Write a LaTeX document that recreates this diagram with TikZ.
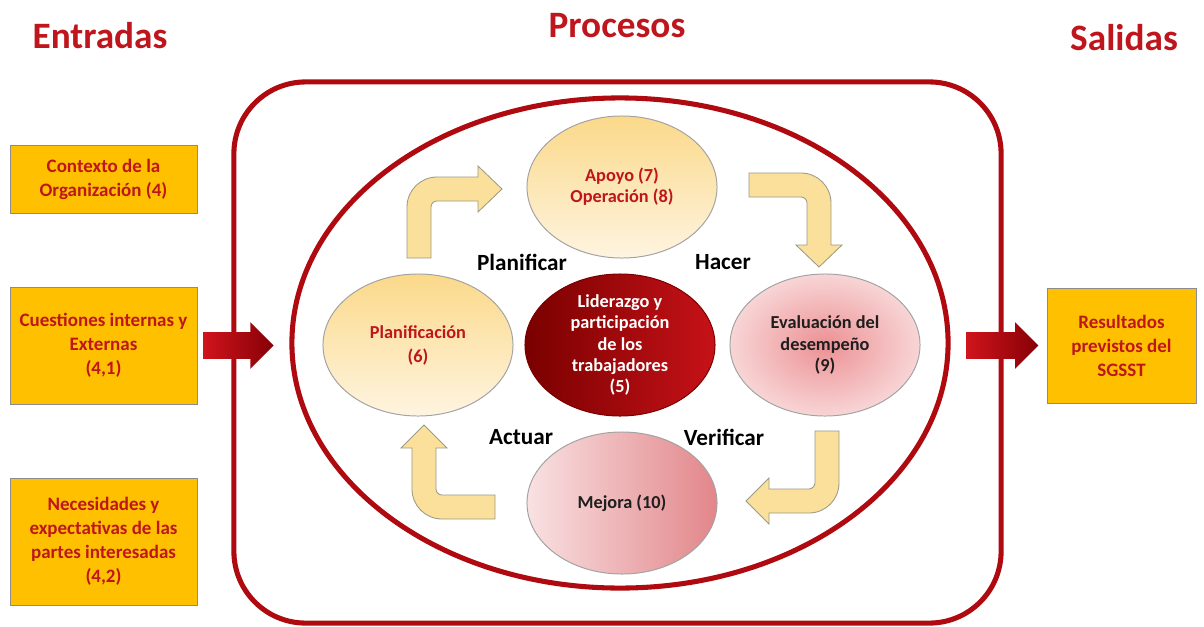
\documentclass[tikz,border=0pt]{standalone}
\usepackage{fontspec}
\setmainfont{Carlito}
\usepackage{xcolor}
\usepackage{tikz}
\usetikzlibrary{positioning,shapes.geometric,shapes.arrows}
\definecolor{textred}{HTML}{BE161C}
\definecolor{framered}{HTML}{AE0A10}
\definecolor{boxgold}{HTML}{FFC000}
\definecolor{boxgray}{HTML}{8C8C8C}
\definecolor{bubblegray}{HTML}{A3A3A3}
\definecolor{cremetop}{HTML}{FBD98A}
\definecolor{cremebottom}{HTML}{FEF4E0}
\definecolor{liderleft}{HTML}{7A0000}
\definecolor{liderright}{HTML}{C61218}
\definecolor{evalinner}{HTML}{EC9194}
\definecolor{evalouter}{HTML}{F8D5D6}
\definecolor{mejoraleft}{HTML}{F9E1E2}
\definecolor{mejoraright}{HTML}{E2868A}
\definecolor{turnfill}{HTML}{FBE09B}
\definecolor{turnline}{HTML}{9A9A86}
\definecolor{bigleft}{HTML}{D0141C}
\definecolor{bigright}{HTML}{860006}
\definecolor{darktext}{HTML}{1E1E1E}
\tikzset{
  titulo/.style={font=\fontsize{26.5}{30}\selectfont\bfseries,text=textred},
  fase/.style={font=\fontsize{16.5}{20}\selectfont\bfseries,text=black},
  caja/.style={draw=boxgray,fill=boxgold,text=textred,align=center,inner sep=2pt,
    minimum width=4.675cm,font=\fontsize{13.5}{17}\selectfont\bfseries},
  burbuja/.style={ellipse,draw=bubblegray,line width=0.7pt,minimum width=4.75cm,minimum height=3.55cm,
    align=center,inner sep=0pt,font=\fontsize{13}{15}\selectfont\bfseries},
  crema/.style={burbuja,top color=cremetop,bottom color=cremebottom,text=textred},
  marco/.style={draw=framered,line width=3.6pt},
  giro/.style={fill=turnfill,draw=turnline,line width=0.6pt},
  flecharoja/.style={single arrow,draw=none,left color=bigleft,right color=bigright,
    minimum width=1.15cm,single arrow head extend=0.245cm,single arrow head indent=0pt,
    inner xsep=0pt,inner ysep=0.33cm}
}
\begin{document}
\begin{tikzpicture}[x=0.025cm,y=-0.025cm]
\useasboundingbox (0,0) rectangle (1204,626);
\node[titulo] (entradas) at (100,36) {Entradas};
\node[titulo] (procesos) at (617,26) {Procesos};
\node[titulo] (salidas) at (1124,38) {Salidas};
\node[marco,rectangle,rounded corners=51pt,minimum width=19.175cm,minimum height=13.525cm] (marco) at (617.5,352.5) {};
\node[marco,ellipse,minimum width=16.4cm,minimum height=12.25cm] (ciclo) at (620,343) {};
\node[crema] (apoyo) at (622,187) {Apoyo (7)\\Operación (8)};
\node[crema,font=\fontsize{13}{17}\selectfont\bfseries] (planificacion) at (418,345) {Planificación\\(6)};
\node[burbuja,draw=liderleft,left color=liderleft,right color=liderright,text=white] (liderazgo) at (620,345) {Liderazgo y\\participación\\de los\\trabajadores\\(5)};
\node[burbuja,inner color=evalinner,outer color=evalouter,text=darktext] (evaluacion) at (825,345) {Evaluación del\\desempeño\\(9)};
\node[burbuja,left color=mejoraleft,right color=mejoraright,text=darktext] (mejora) at (622,503) {Mejora (10)};
\draw[giro] (407,258) -- (407,207) .. controls (407,190.4) and (420.4,177) .. (437,177) -- (478,177) -- (478,166) -- (502,189) -- (478,212) -- (478,201) -- (437,201) .. controls (433.7,201) and (431,203.7) .. (431,207) -- (431,258) -- cycle;
\draw[giro] (749,173) -- (801,173) .. controls (817.6,173) and (831,186.4) .. (831,203) -- (831,245) -- (842,245) -- (819,267) -- (796,245) -- (807,245) -- (807,203) .. controls (807,199.7) and (804.3,197) .. (801,197) -- (749,197) -- cycle;
\draw[giro] (815,431) -- (839,431) -- (839,483) .. controls (839,499.6) and (825.6,513) .. (809,513) -- (769,513) -- (769,524) -- (746,501) -- (769,478) -- (769,489) -- (809,489) .. controls (812.3,489) and (815,485.7) .. (815,483) -- cycle;
\draw[giro] (495,495) -- (495,519) -- (442,519) .. controls (425.4,519) and (412,505.6) .. (412,489) -- (412,448) -- (401,448) -- (424,425) -- (447,448) -- (436,448) -- (436,489) .. controls (436,492.3) and (438.7,495) .. (442,495) -- cycle;
\node[fase] (planificar) at (522,262) {Planificar};
\node[fase] (hacer) at (723,262) {Hacer};
\node[fase] (actuar) at (521,437) {Actuar};
\node[fase] (verificar) at (724,437) {Verificar};
\node[caja,minimum height=1.7cm] (contexto) at (103.5,179) {Contexto de la\\Organización (4)};
\node[caja,minimum height=2.925cm] (cuestiones) at (103.5,345.5) {Cuestiones internas y\\Externas\\(4,1)};
\node[caja,minimum height=3.175cm] (necesidades) at (103.5,541.5) {Necesidades y\\expectativas de las\\partes interesadas\\(4,2)};
\node[caja,minimum width=3.725cm,minimum height=2.875cm] (resultados) at (1121.5,345.5) {Resultados\\previstos del\\SGSST};
\node[flecharoja,minimum height=1.75cm,right=0.15cm of cuestiones] (entra) {};
\node[flecharoja,minimum height=1.8cm,left=0.2cm of resultados] (sale) {};
\end{tikzpicture}
\end{document}
